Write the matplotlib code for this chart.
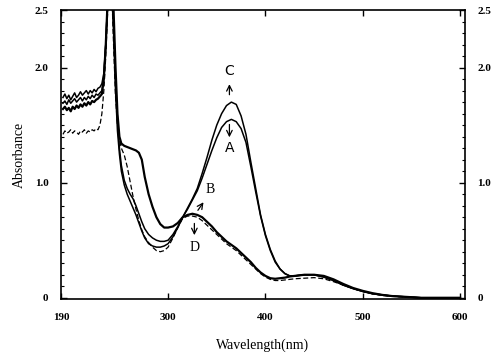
import matplotlib
matplotlib.use("Agg")
import matplotlib.pyplot as plt
from matplotlib.ticker import FixedLocator, MultipleLocator

# wavelengths (nm), shared by all four spectra
wl = [192, 194, 196, 198, 200, 202, 204, 206, 208, 210,
      212, 214, 216, 218, 220, 222, 224, 226, 228, 230,
      232, 234, 236, 238, 240, 242, 244, 246, 248, 250,
      252, 255, 258, 261, 264, 267, 270, 273, 276, 280,
      284, 288, 292, 296, 300, 305, 310, 315, 320, 325,
      330, 335, 340, 345, 350, 355, 360, 365, 370, 375,
      380, 385, 390, 395, 400, 405, 410, 415, 420, 425,
      430, 440, 450, 460, 470, 480, 490, 500, 510, 520,
      530, 540, 550, 560, 580, 600]

abs_C = [1.74, 1.77, 1.73, 1.76, 1.72, 1.75, 1.78, 1.74, 1.76, 1.79,
         1.76, 1.78, 1.80, 1.77, 1.80, 1.78, 1.81, 1.79, 1.82, 1.83,
         1.86, 1.95, 2.20, 2.60, 2.70, 2.70, 2.40, 1.90, 1.55, 1.30,
         1.15, 1.02, 0.95, 0.90, 0.86, 0.80, 0.73, 0.66, 0.60, 0.55,
         0.52, 0.50, 0.49, 0.49, 0.50, 0.55, 0.62, 0.70, 0.78, 0.86,
         0.95, 1.08, 1.22, 1.37, 1.50, 1.60, 1.67, 1.70, 1.68, 1.58,
         1.42, 1.18, 0.95, 0.72, 0.55, 0.42, 0.32, 0.25, 0.21, 0.19,
         0.19, 0.20, 0.20, 0.18, 0.15, 0.11, 0.08, 0.055, 0.035, 0.025,
         0.015, 0.01, 0.005, 0.0, 0.0, 0.0]

abs_A = [1.69, 1.71, 1.68, 1.72, 1.69, 1.71, 1.73, 1.70, 1.72, 1.74,
         1.71, 1.74, 1.72, 1.75, 1.73, 1.76, 1.74, 1.77, 1.76, 1.78,
         1.80, 1.92, 2.20, 2.60, 2.70, 2.70, 2.30, 1.80, 1.45, 1.25,
         1.10, 0.98, 0.90, 0.84, 0.78, 0.72, 0.65, 0.58, 0.52, 0.47,
         0.45, 0.44, 0.44, 0.45, 0.47, 0.53, 0.61, 0.70, 0.77, 0.85,
         0.93, 1.04, 1.16, 1.28, 1.39, 1.48, 1.53, 1.55, 1.53, 1.47,
         1.35, 1.14, 0.92, 0.71, 0.54, 0.41, 0.31, 0.25, 0.21, 0.19,
         0.19, 0.20, 0.20, 0.18, 0.15, 0.11, 0.08, 0.055, 0.035, 0.025,
         0.015, 0.01, 0.005, 0.0, 0.0, 0.0]

abs_B = [1.64, 1.66, 1.63, 1.65, 1.62, 1.66, 1.64, 1.67, 1.65, 1.68,
         1.66, 1.69, 1.67, 1.70, 1.68, 1.71, 1.70, 1.72, 1.73, 1.75,
         1.77, 1.90, 2.20, 2.60, 2.70, 2.70, 2.50, 2.00, 1.60, 1.40,
         1.34, 1.32, 1.31, 1.30, 1.29, 1.28, 1.26, 1.20, 1.05, 0.90,
         0.79, 0.70, 0.64, 0.61, 0.61, 0.62, 0.65, 0.70, 0.72, 0.73,
         0.72, 0.70, 0.66, 0.62, 0.57, 0.53, 0.49, 0.46, 0.43, 0.39,
         0.35, 0.31, 0.26, 0.22, 0.19, 0.17, 0.165, 0.17, 0.175, 0.185,
         0.19, 0.20, 0.20, 0.19, 0.16, 0.12, 0.085, 0.06, 0.04, 0.025,
         0.015, 0.01, 0.005, 0.0, 0.0, 0.0]

abs_D = [1.42, 1.45, 1.43, 1.44, 1.46, 1.43, 1.45, 1.44, 1.42, 1.45,
         1.44, 1.46, 1.43, 1.45, 1.44, 1.46, 1.45, 1.47, 1.46, 1.50,
         1.60, 1.80, 2.10, 2.50, 2.70, 2.70, 2.20, 1.75, 1.50, 1.38,
         1.30, 1.24, 1.14, 1.01, 0.88, 0.77, 0.67, 0.59, 0.53, 0.48,
         0.44, 0.41, 0.40, 0.41, 0.44, 0.52, 0.61, 0.69, 0.71, 0.71,
         0.70, 0.67, 0.63, 0.59, 0.55, 0.51, 0.47, 0.44, 0.41, 0.37,
         0.33, 0.29, 0.25, 0.21, 0.18, 0.16, 0.15, 0.15, 0.155, 0.16,
         0.165, 0.17, 0.175, 0.165, 0.14, 0.11, 0.08, 0.055, 0.035, 0.02,
         0.012, 0.008, 0.004, 0.0, 0.0, 0.0]

x_ticks = [190, 300, 400, 500, 600]
x_labels = ["190", "300", "400", "500", "600"]
y_ticks = [0, 1.0, 2.0, 2.5]
y_labels = ["0", "1.0", "2.0", "2.5"]

serif = "Liberation Serif"

fig = plt.figure(figsize=(5, 3.58), dpi=100)
ax = fig.add_axes([0.122, 0.165, 0.808, 0.807])

ax.plot(wl, abs_C, color="black", lw=1.1)
ax.plot(wl, abs_A, color="black", lw=1.1)
ax.plot(wl, abs_B, color="black", lw=1.6)
ax.plot(wl, abs_D, color="black", lw=0.9, linestyle=(0, (4, 2)))

ax.set_xlim(190, 605)
ax.set_ylim(-0.01, 2.5)

ax.xaxis.set_major_locator(FixedLocator(x_ticks))
ax.set_xticklabels(x_labels)
ax.yaxis.set_major_locator(FixedLocator(y_ticks))
ax.set_yticklabels(y_labels)
ax.yaxis.set_minor_locator(MultipleLocator(0.1))

ax.tick_params(axis="both", which="major", direction="in", length=4, width=1,
               top=True, right=True, labelright=True, labelsize=8)
ax.tick_params(axis="x", which="major", pad=10)
ax.tick_params(axis="y", which="major", pad=9)
ax.tick_params(axis="y", which="minor", direction="in", length=2, width=0.8,
               left=True, right=True)
for lab in ax.get_xticklabels() + ax.get_yticklabels():
    lab.set_fontfamily(serif)
    lab.set_fontweight("bold")
for s in ax.spines.values():
    s.set_linewidth(1.2)

ax.set_xlabel("Wavelength(nm)", family=serif, fontsize=10, labelpad=12)
ax.set_ylabel("Absorbance", family=serif, fontsize=10, labelpad=6)

# curve labels with arrows
ax.text(363, 1.97, "C", ha="center", va="center", fontsize=10)
ax.annotate("", xy=(363, 1.88), xytext=(363, 1.74),
            arrowprops=dict(arrowstyle="->", color="black", lw=0.9))
ax.text(363, 1.30, "A", ha="center", va="center", fontsize=10)
ax.annotate("", xy=(363, 1.37), xytext=(363, 1.53),
            arrowprops=dict(arrowstyle="->", color="black", lw=0.9))
ax.text(343, 0.94, "B", ha="center", va="center", fontsize=10, family=serif)
ax.annotate("", xy=(338, 0.85), xytext=(329, 0.74),
            arrowprops=dict(arrowstyle="->", color="black", lw=0.9))
ax.text(327, 0.44, "D", ha="center", va="center", fontsize=10, family=serif)
ax.annotate("", xy=(327, 0.52), xytext=(327, 0.67),
            arrowprops=dict(arrowstyle="->", color="black", lw=0.9))

plt.savefig("out.png", dpi=100)
